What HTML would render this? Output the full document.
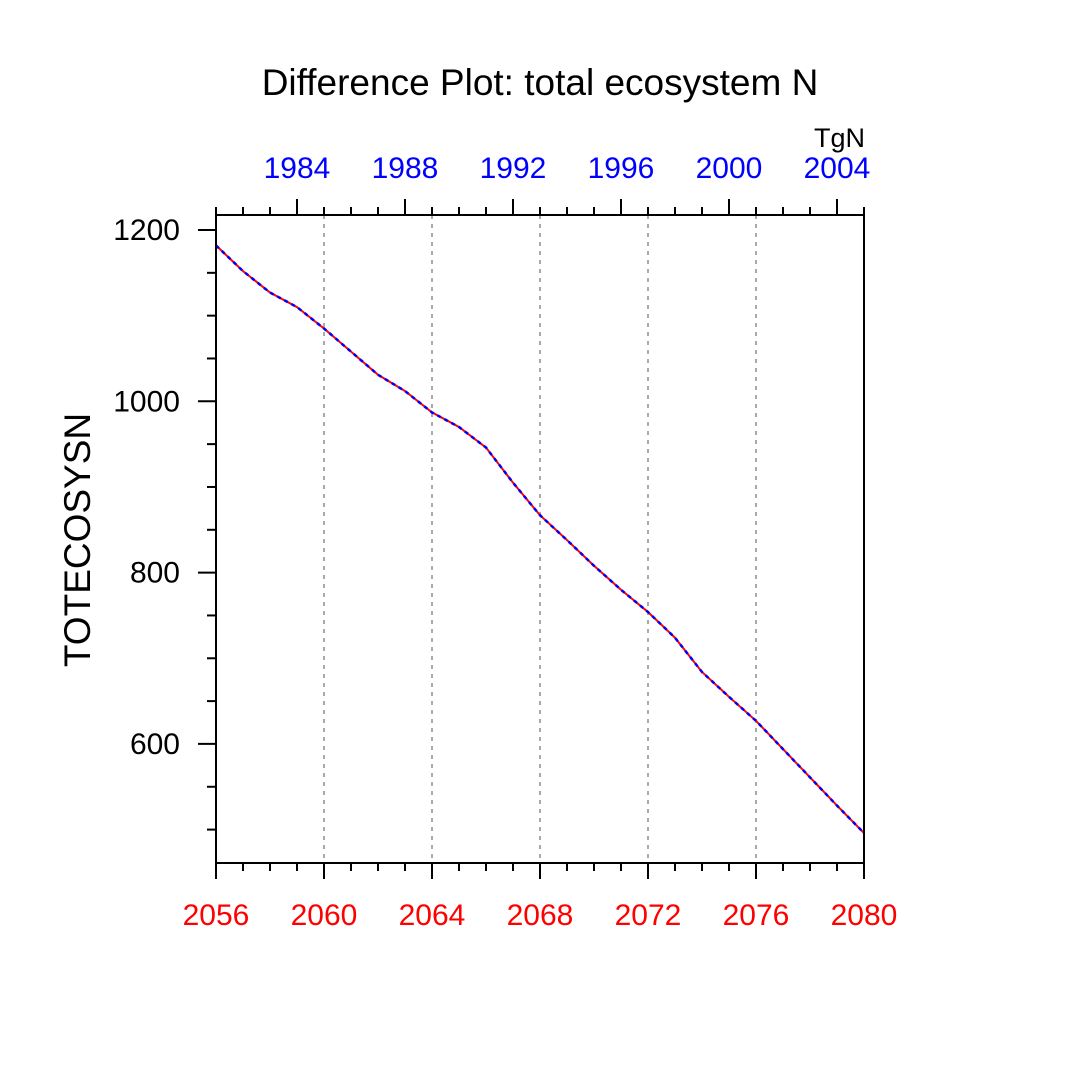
<!DOCTYPE html>
<html><head><meta charset="utf-8"><style>body{margin:0;background:#fff}svg{display:block}text{font-family:"Liberation Sans",sans-serif}</style></head>
<body>
<svg id="chart" width="1080" height="1080" xmlns="http://www.w3.org/2000/svg">
<rect width="1080" height="1080" fill="#fff"/>
<text x="540" y="95" font-size="37" text-anchor="middle">Difference Plot: total ecosystem N</text>
<text x="865" y="147" font-size="27" text-anchor="end">TgN</text>
<text transform="translate(90,540) rotate(-90)" font-size="37" text-anchor="middle">TOTECOSYSN</text>
<g id="grid"></g><g id="ticks"></g><g id="lines"></g>
<rect x="216" y="215" width="648" height="648" fill="none" stroke="#000" stroke-width="2"/>
</svg>
<script>
const years = [2056,2057,2058,2059,2060,2061,2062,2063,2064,2065,2066,2067,2068,2069,2070,2071,2072,2073,2074,2075,2076,2077,2078,2079,2080];
const values = [1182,1152,1127,1110,1085,1058,1031,1012,987,970,946,905,867,838,808,780,754,724,684,655,627,594,561,528,496];
const bottomTicks = [2056,2060,2064,2068,2072,2076,2080];
const topTicks = [1984,1988,1992,1996,2000,2004];
const yTicks = [600,800,1000,1200];
const NS='http://www.w3.org/2000/svg';
const X0=216,X1=864,Y0=215,Y1=863,xmin=2056,xmax=2080,ymin=461,ymax=1217.5;
const xs=v=>X0+(v-xmin)/(xmax-xmin)*(X1-X0);
const ys=v=>Y1-(v-ymin)/(ymax-ymin)*(Y1-Y0);
function mk(tag,attrs,parent){const e=document.createElementNS(NS,tag);for(const k in attrs)e.setAttribute(k,attrs[k]);document.getElementById(parent).appendChild(e);return e;}
bottomTicks.slice(1,-1).forEach(t=>{const l=mk('line',{x1:xs(t),x2:xs(t),y1:Y0,y2:Y1,stroke:'#aaa','stroke-width':2,'stroke-dasharray':'4 5'},'grid');

});
for(let y=xmin;y<=xmax;y++){const maj=(y-xmin)%4===0;
mk('line',{x1:xs(y),x2:xs(y),y1:Y1,y2:Y1+(maj?16:8),stroke:'#000','stroke-width':2},'ticks');}
bottomTicks.forEach(t=>{const e=mk('text',{x:xs(t),y:925,'font-size':30,'text-anchor':'middle',fill:'#f00'},'ticks');e.textContent=t;

});
for(let y=xmin;y<=xmax;y++){const maj=topTicks.includes(y-75);
mk('line',{x1:xs(y),x2:xs(y),y1:Y0,y2:Y0-(maj?16:8),stroke:'#000','stroke-width':2},'ticks');}
topTicks.forEach(t=>{const e=mk('text',{x:xs(t+75),y:178,'font-size':30,'text-anchor':'middle',fill:'#00f'},'ticks');e.textContent=t;

});
for(let v=500;v<=1200;v+=50){const maj=v%200===0;
mk('line',{x1:X0,x2:X0-(maj?18:9),y1:ys(v),y2:ys(v),stroke:'#000','stroke-width':2},'ticks');}
yTicks.forEach(t=>{const e=mk('text',{x:180,y:ys(t)+10,'font-size':30,'text-anchor':'end'},'ticks');e.textContent=t;

});
const pts=years.map((y,i)=>xs(y)+','+ys(values[i])).join(' ');
const r=mk('polyline',{points:pts,fill:'none',stroke:'#f00','stroke-width':2},'lines');


const b=mk('polyline',{points:pts,fill:'none',stroke:'#00f','stroke-width':2.5,'stroke-dasharray':'4 4'},'lines');


</script>
</body></html>
